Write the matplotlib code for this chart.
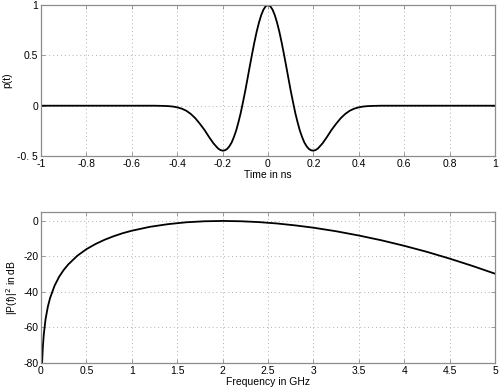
import matplotlib
matplotlib.use('Agg')
import matplotlib.pyplot as plt
import numpy as np

plt.rcParams['font.family'] = ['Liberation Sans', 'DejaVu Sans']
plt.rcParams['axes.unicode_minus'] = False

# pulse p(t) (symmetric about t=0)
t_half = [0.0, 0.01, 0.02, 0.03, 0.04, 0.05, 0.06, 0.07, 0.08, 0.09, 0.10,
          0.11, 0.12, 0.13, 0.14, 0.15, 0.16, 0.17, 0.18, 0.19, 0.20, 0.21,
          0.22, 0.24, 0.26, 0.28, 0.30, 0.32, 0.34, 0.36, 0.38, 0.40, 0.42,
          0.44, 0.46, 0.48, 0.50, 0.60, 0.80, 1.00]
p_half = [1.0, 0.989, 0.955, 0.900, 0.825, 0.735, 0.630, 0.515, 0.395,
          0.272, 0.150, 0.038, -0.070, -0.162, -0.245, -0.310, -0.365,
          -0.403, -0.430, -0.443, -0.447, -0.440, -0.425, -0.375, -0.310,
          -0.240, -0.180, -0.125, -0.082, -0.050, -0.029, -0.016, -0.008,
          -0.004, -0.002, -0.001, 0.0, 0.0, 0.0, 0.0]

# power spectrum in dB
freq = [0.012, 0.02, 0.03, 0.05, 0.075, 0.1, 0.15, 0.2, 0.25, 0.3, 0.4, 0.5,
        0.6, 0.7, 0.8, 0.9, 1.0, 1.2, 1.4, 1.6, 1.8, 2.0, 2.2, 2.4, 2.6, 2.8,
        3.0, 3.25, 3.5, 3.75, 4.0, 4.25, 4.5, 4.75, 5.0]
psd_db = [-80.0, -71.3, -64.3, -55.4, -48.4, -43.4, -36.4, -31.4, -27.6,
          -24.5, -19.6, -15.9, -13.0, -10.6, -8.6, -6.9, -5.5, -3.3, -1.8,
          -0.75, -0.18, 0.0, -0.17, -0.65, -1.43, -2.5, -3.8, -5.8, -8.2,
          -10.9, -14.0, -17.4, -21.2, -25.3, -29.7]

t = [-v for v in t_half[::-1]] + t_half[1:]
p = p_half[::-1] + p_half[1:]

BOX = '#8c8c8c'
FS = 7.5

fig = plt.figure(figsize=(5.0, 3.92), dpi=100)
ax1 = fig.add_axes([0.082, 0.602, 0.908, 0.385])
ax2 = fig.add_axes([0.082, 0.074, 0.908, 0.385])

ax1.plot(t, p, color='black', lw=1.3)
ax1.set(xlim=(-1, 1), ylim=(-0.5, 1))
ax1.set_xticks(np.arange(-1, 1.01, 0.2))
ax1.set_xticklabels(['-1', '-0.8', '-0.6', '-0.4', '-0.2', '0', '0.2', '0.4', '0.6', '0.8', '1'])
ax1.set_yticks([-0.5, 0, 0.5, 1])
ax1.set_yticklabels(['-0. 5', '0', '0.5', '1'])
ax1.set_xlabel('Time in ns', fontsize=FS, labelpad=1)
ax1.set_ylabel('p(t)', fontsize=FS, labelpad=4)

ax2.plot(freq, psd_db, color='black', lw=1.3)
ax2.set(xlim=(0, 5), ylim=(-80, 5))
ax2.set_xticks(np.arange(0, 5.01, 0.5))
ax2.set_xticklabels(['0', '0.5', '1', '1.5', '2', '2.5', '3', '3.5', '4', '4.5', '5'])
ax2.set_yticks([-80, -60, -40, -20, 0])
ax2.set_xlabel('Frequency in GHz', fontsize=FS, labelpad=1)
ax2.set_ylabel('|P(f)|$^2$ in dB', fontsize=FS, labelpad=2)

for ax in (ax1, ax2):
    for s in ax.spines.values():
        s.set_color(BOX)
        s.set_linewidth(0.9)
    ax.tick_params(direction='in', length=3, width=0.6, color=BOX,
                   labelsize=FS, pad=2, top=True, right=True)
    ax.grid(True, linestyle=(0, (1, 3)), color='#b0b0b0', linewidth=0.7)
    ax.set_axisbelow(True)

fig.savefig('out.png', dpi=100)
